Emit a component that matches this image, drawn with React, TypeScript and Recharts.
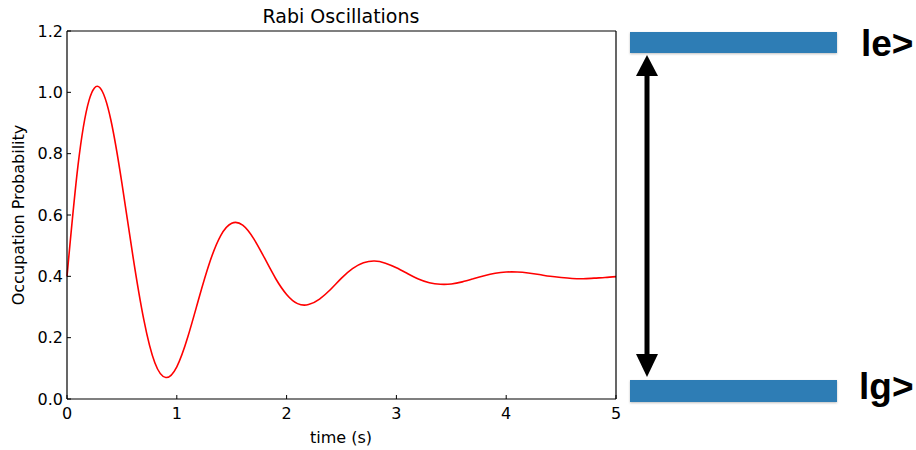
import { LineChart, Line, XAxis, YAxis } from "recharts";

// time (s)
const times = [
  0, 0.1, 0.2, 0.3, 0.4, 0.5, 0.6, 0.7, 0.8, 0.9, 1.0, 1.1, 1.2, 1.3, 1.4, 1.5, 1.6,
  1.7, 1.8, 1.9, 2.0, 2.1, 2.2, 2.3, 2.4, 2.5, 2.6, 2.7, 2.8, 2.9, 3.0, 3.1, 3.2, 3.3,
  3.4, 3.5, 3.6, 3.7, 3.8, 3.9, 4.0, 4.1, 4.2, 4.3, 4.4, 4.5, 4.6, 4.7, 4.8, 4.9, 5.0,
];

// occupation probability
const probability = [
  0.4, 0.761, 0.973, 1.015, 0.909, 0.704, 0.467, 0.258, 0.118, 0.07, 0.105, 0.202,
  0.327, 0.446, 0.533, 0.573, 0.567, 0.523, 0.459, 0.393, 0.341, 0.311, 0.308, 0.326,
  0.357, 0.394, 0.425, 0.444, 0.45, 0.443, 0.428, 0.409, 0.391, 0.379, 0.374, 0.375,
  0.382, 0.392, 0.402, 0.41, 0.414, 0.414, 0.411, 0.406, 0.4, 0.396, 0.393, 0.392,
  0.394, 0.396, 0.399,
];

const xTicks = [0, 1, 2, 3, 4, 5];
const yTicks = [0, 0.2, 0.4, 0.6, 0.8, 1.0, 1.2];

const data = times.map((t, i) => ({ t, p: probability[i] }));

const axisLine = { stroke: "#000", strokeWidth: 1.2 };
const tickLine = { stroke: "#000", strokeWidth: 1 };
const X_GAP = 8;
const Y_GAP = 4;

// matplotlib-style ticks: short mark inside the frame, label outside
function BottomTick(props: any) {
  const { x, y, payload } = props;
  const axisY = y - X_GAP;
  return (
    <g>
      <line x1={x} x2={x} y1={axisY} y2={axisY - 4} stroke="#000" />
      <text
        x={x}
        y={y}
        dy={12}
        textAnchor="middle"
        fontFamily="DejaVu Sans"
        fontSize={16}
        fill="#000"
      >
        {payload.value}
      </text>
    </g>
  );
}

function LeftTick(props: any) {
  const { x, y, payload } = props;
  const axisX = x + Y_GAP;
  return (
    <g>
      <line x1={axisX} x2={axisX + 4} y1={y} y2={y} stroke="#000" />
      <text
        x={x}
        y={y}
        dy="0.36em"
        textAnchor="end"
        fontFamily="DejaVu Sans"
        fontSize={16}
        fill="#000"
      >
        {Number(payload.value).toFixed(1)}
      </text>
    </g>
  );
}

export default function App() {
  return (
    <div
      style={{
        position: "fixed",
        left: 0,
        top: 0,
        width: 916,
        height: 450,
        background: "#fff",
      }}
    >
      <LineChart
        width={630}
        height={450}
        data={data}
        margin={{ top: 31, right: 14, bottom: 0, left: 0 }}
      >
        <XAxis
          xAxisId="main"
          dataKey="t"
          type="number"
          domain={[0, 5]}
          ticks={xTicks}
          interval={0}
          height={51}
          tickSize={0}
          tickMargin={X_GAP}
          tick={<BottomTick />}
          axisLine={axisLine}
          tickLine={false}
        />
        <XAxis
          xAxisId="top"
          orientation="top"
          dataKey="t"
          type="number"
          domain={[0, 5]}
          ticks={xTicks}
          interval={0}
          height={1}
          mirror
          tick={false}
          tickSize={4}
          axisLine={axisLine}
          tickLine={tickLine}
        />
        <YAxis
          yAxisId="main"
          type="number"
          domain={[0, 1.2]}
          ticks={yTicks}
          interval={0}
          width={67}
          tickSize={0}
          tickMargin={Y_GAP}
          tick={<LeftTick />}
          axisLine={axisLine}
          tickLine={false}
        />
        <YAxis
          yAxisId="right"
          orientation="right"
          type="number"
          domain={[0, 1.2]}
          ticks={yTicks}
          interval={0}
          width={1}
          mirror
          tick={false}
          tickSize={4}
          axisLine={axisLine}
          tickLine={tickLine}
        />
        <Line
          xAxisId="main"
          yAxisId="main"
          dataKey="p"
          type="natural"
          stroke="#ff0000"
          strokeWidth={1.6}
          dot={false}
          isAnimationActive={false}
        />
      </LineChart>

      <svg
        width={916}
        height={450}
        style={{ position: "absolute", left: 0, top: 0, pointerEvents: "none" }}
      >
        <text
          x={341}
          y={23}
          textAnchor="middle"
          fontFamily="DejaVu Sans"
          fontSize={19}
          fill="#000"
        >
          Rabi Oscillations
        </text>
        <text
          x={341}
          y={443}
          textAnchor="middle"
          fontFamily="DejaVu Sans"
          fontSize={16}
          fill="#000"
        >
          time (s)
        </text>
        <text
          transform="translate(24 215) rotate(-90)"
          textAnchor="middle"
          fontFamily="DejaVu Sans"
          fontSize={16}
          fill="#000"
        >
          Occupation Probability
        </text>

        <defs>
          <filter id="sh" x="-5%" y="-30%" width="110%" height="160%">
            <feDropShadow dx="0" dy="1" stdDeviation="1" floodColor="#000" floodOpacity="0.25" />
          </filter>
        </defs>
        <rect x={630} y={32} width={207} height={21} fill="#2e7db5" filter="url(#sh)" />
        <rect x={630} y={380} width={207} height={22} fill="#2e7db5" filter="url(#sh)" />

        <line x1={647} y1={74} x2={647} y2={356} stroke="#000" strokeWidth={5} />
        <polygon points="647,55 636,76 658,76" fill="#000" />
        <polygon points="647,377 636,354 658,354" fill="#000" />

        <text
          x={861}
          y={56}
          fontFamily="Liberation Sans"
          fontWeight="bold"
          fontSize={37}
          fill="#000"
        >
          le&gt;
        </text>
        <text
          x={859}
          y={399}
          fontFamily="Liberation Sans"
          fontWeight="bold"
          fontSize={37}
          fill="#000"
        >
          lg&gt;
        </text>
      </svg>
    </div>
  );
}
